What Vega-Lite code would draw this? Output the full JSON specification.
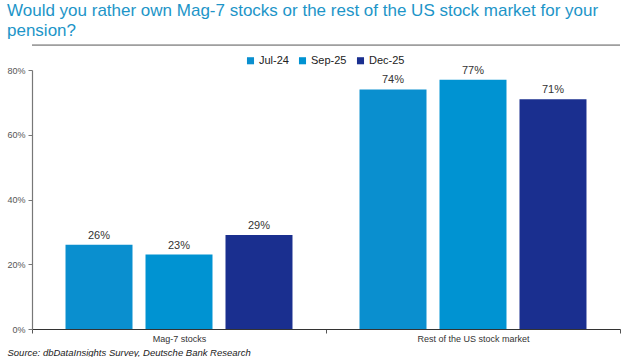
{
  "$schema": "https://vega.github.io/schema/vega-lite/v6.json",
  "width": 588,
  "height": 259,
  "autosize": {"type": "none"},
  "padding": {"left": 32, "top": 70, "right": 4, "bottom": 28},
  "background": "white",
  "config": {"view": {"stroke": null}, "font": "Liberation Sans"},
  "title": {
    "text": ["Would you rather own Mag-7 stocks or the rest of the US stock market for your", "pension?"],
    "anchor": "start",
    "frame": "group",
    "dx": -25,
    "offset": 5,
    "fontSize": 17,
    "fontWeight": "normal",
    "color": "#1d95c8",
    "lineHeight": 20,
    "font": "Liberation Sans"
  },
  "data": {
    "values": [
      {"category": "Mag-7 stocks", "period": "Jul-24", "value": 0.26},
      {"category": "Mag-7 stocks", "period": "Sep-25", "value": 0.23},
      {"category": "Mag-7 stocks", "period": "Dec-25", "value": 0.29},
      {"category": "Rest of the US stock market", "period": "Jul-24", "value": 0.74},
      {"category": "Rest of the US stock market", "period": "Sep-25", "value": 0.77},
      {"category": "Rest of the US stock market", "period": "Dec-25", "value": 0.71}
    ]
  },
  "encoding": {
    "x": {
      "field": "category",
      "type": "nominal",
      "sort": null,
      "scale": {"paddingInner": 0, "paddingOuter": 0},
      "axis": {
        "title": "Source: dbDataInsights Survey, Deutsche Bank Research",
        "titleFontStyle": "italic",
        "titleFontWeight": "normal",
        "titleFontSize": 9.5,
        "titleColor": "#222",
        "titleAnchor": "start",
        "titleAlign": "left",
        "titleX": -25,
        "titleY": 23,
        "titleBaseline": "middle",
        "labelAngle": 0,
        "labelFontSize": 9,
        "labelColor": "#333",
        "labelPadding": 1,
        "tickBand": "extent",
        "tickSize": 4,
        "tickColor": "#555",
        "domainColor": "#333",
        "domainWidth": 1.2,
        "grid": false
      }
    },
    "xOffset": {
      "field": "period",
      "type": "nominal",
      "sort": ["Jul-24", "Sep-25", "Dec-25"],
      "scale": {"paddingInner": 0.1625, "paddingOuter": 0.419}
    },
    "y": {
      "field": "value",
      "type": "quantitative",
      "scale": {"domain": [0, 0.8], "nice": false},
      "axis": {
        "title": null,
        "format": ".0%",
        "values": [0, 0.2, 0.4, 0.6, 0.8],
        "grid": false,
        "labelFontSize": 9,
        "labelColor": "#555",
        "labelPadding": 3,
        "tickSize": 4,
        "tickColor": "#777",
        "domainColor": "#777",
        "domainWidth": 1.2
      }
    }
  },
  "layer": [
    {
      "mark": {"type": "bar"},
      "encoding": {
        "color": {
          "field": "period",
          "type": "nominal",
          "sort": ["Jul-24", "Sep-25", "Dec-25"],
          "scale": {"domain": ["Jul-24", "Sep-25", "Dec-25"], "range": ["#0a8fcf", "#0093d2", "#1a2f8f"]},
          "legend": {
            "title": null,
            "orient": "none",
            "legendX": 213,
            "legendY": -15,
            "direction": "horizontal",
            "columns": 3,
            "symbolType": "square",
            "symbolSize": 50,
            "symbolStrokeWidth": 0,
            "labelFontSize": 11,
            "labelColor": "#222",
            "labelOffset": 3,
            "columnPadding": 8
          }
        }
      }
    },
    {
      "mark": {"type": "text", "dy": -9, "fontSize": 11, "color": "#333"},
      "encoding": {
        "text": {"field": "value", "type": "quantitative", "format": ".0%"}
      }
    },
    {
      "data": {"values": [{"pos": 0.877}]},
      "mark": {"type": "rule", "color": "#555", "strokeWidth": 1},
      "encoding": {
        "y": {"field": "pos", "type": "quantitative"},
        "x": null,
        "xOffset": null
      }
    }
  ]
}
